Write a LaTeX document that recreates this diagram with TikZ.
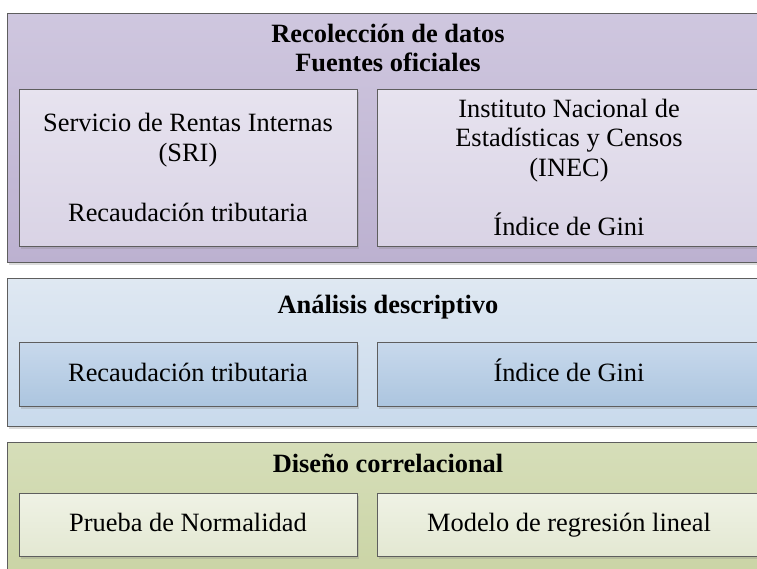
\documentclass[tikz,border=0pt]{standalone}
\usepackage{fontspec}
\setmainfont{Liberation Serif}
\usetikzlibrary{shadows}
\definecolor{purTop}{HTML}{CFC7DF}
\definecolor{purBot}{HTML}{BCB1D0}
\definecolor{purInTop}{HTML}{E7E3EF}
\definecolor{purInBot}{HTML}{D9D3E5}
\definecolor{bluTop}{HTML}{DFE8F2}
\definecolor{bluBot}{HTML}{C9DAEC}
\definecolor{bluInTop}{HTML}{C8D9EC}
\definecolor{bluInBot}{HTML}{ACC5DF}
\definecolor{grnTop}{HTML}{D6DEB9}
\definecolor{grnBot}{HTML}{CAD4A5}
\definecolor{grnInTop}{HTML}{EFF2E5}
\definecolor{grnInBot}{HTML}{E3E8D2}
\definecolor{edgeGray}{HTML}{5E5E5E}
\begin{document}
\begin{tikzpicture}[x=1pt,y=-1pt,
  box/.style={draw=edgeGray, line width=1pt, rectangle, inner sep=0pt, outer sep=0pt,
    anchor=north west, align=center,
    font=\fontsize{26.4}{29.7}\selectfont,
    drop shadow={shadow xshift=1.5pt, shadow yshift=-2.5pt, opacity=0.28}},
  oneline/.style={text height=14pt, text depth=0pt},
  outerP/.style={box, top color=purTop, bottom color=purBot},
  innerP/.style={box, top color=purInTop, bottom color=purInBot},
  outerB/.style={box, top color=bluTop, bottom color=bluBot},
  innerB/.style={box, oneline, top color=bluInTop, bottom color=bluInBot},
  outerG/.style={box, top color=grnTop, bottom color=grnBot},
  innerG/.style={box, oneline, top color=grnInTop, bottom color=grnInBot},
  ttl/.style={font=\fontsize{26.4}{29}\selectfont\bfseries, align=center, anchor=base, inner sep=0pt}
]
\path[fill=white,use as bounding box] (0,0) rectangle (757,568);
\clip (0,0) rectangle (757,568);
% section 1
\node[outerP, minimum width=762pt, minimum height=249pt] (sec1) at (7,13) {};
\node[ttl] (t1) at (388,71) {Recolección de datos\\Fuentes oficiales};
\node[innerP, minimum width=338pt, minimum height=157pt] (p1) at (19,89)
  {Servicio de Rentas Internas\\(SRI)\\[29.7pt]Recaudación tributaria};
\node[innerP, minimum width=384pt, minimum height=157pt] (p2) at (377,89)
  {Instituto Nacional de\\Estadísticas y Censos\\(INEC)\\[29.7pt]Índice de Gini};
% section 2
\node[outerB, minimum width=762pt, minimum height=148pt] (sec2) at (7,278) {};
\node[ttl] (t2) at (388,313) {Análisis descriptivo};
\node[innerB, minimum width=338pt, minimum height=64pt] (b1) at (19,342) {Recaudación tributaria};
\node[innerB, minimum width=384pt, minimum height=64pt] (b2) at (377,342) {Índice de Gini};
% section 3
\node[outerG, minimum width=762pt, minimum height=134pt] (sec3) at (7,442) {};
\node[ttl] (t3) at (388,472) {Diseño correlacional};
\node[innerG, minimum width=338pt, minimum height=63pt] (g1) at (19,493) {Prueba de Normalidad};
\node[innerG, minimum width=384pt, minimum height=63pt] (g2) at (377,493) {Modelo de regresión lineal};
\end{tikzpicture}
\end{document}
